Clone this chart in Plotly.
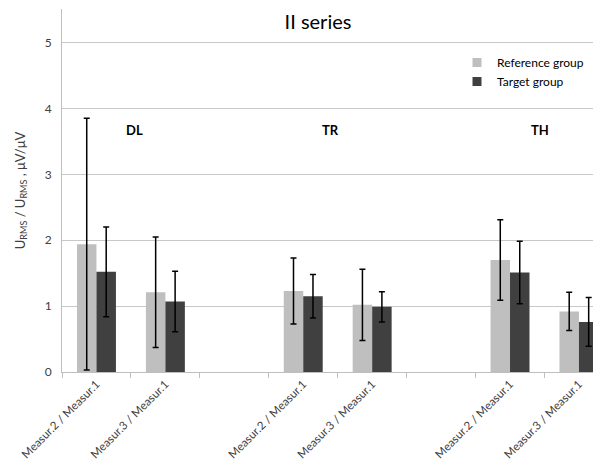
import plotly.graph_objects as go

categories = ["DL-2", "DL-3", "gap1", "TR-2", "TR-3", "gap2", "TH-2", "TH-3"]
tick_labels = ["Measur.2 / Measur.1", "Measur.3 / Measur.1", " ",
               "Measur.2 / Measur.1", "Measur.3 / Measur.1", " ",
               "Measur.2 / Measur.1", "Measur.3 / Measur.1"]
ref_values = [1.94, 1.21, None, 1.23, 1.02, None, 1.70, 0.92]
ref_errors = [1.91, 0.84, None, 0.50, 0.54, None, 0.61, 0.29]
tgt_values = [1.52, 1.07, None, 1.15, 0.99, None, 1.51, 0.76]
tgt_errors = [0.68, 0.46, None, 0.33, 0.23, None, 0.475, 0.37]
group_labels = ["DL", "TR", "TH"]
group_label_x = [0.55, 3.39, 6.44]
group_label_y = 3.68

FONT = "Lato, 'Open Sans', sans-serif"
REF_COLOR = "#BFBFBF"
TGT_COLOR = "#404040"

# The page body has an 8px default margin, so the figure is sized to fit.
W, H = 593, 454

fig = go.Figure()
fig.add_trace(go.Bar(
    x=categories, y=ref_values, name="Reference group", showlegend=False,
    marker=dict(color=REF_COLOR, line=dict(width=0)),
    error_y=dict(type="data", array=ref_errors, visible=True,
                 color="black", thickness=1.5, width=3),
))
fig.add_trace(go.Bar(
    x=categories, y=tgt_values, name="Target group", showlegend=False,
    marker=dict(color=TGT_COLOR, line=dict(width=0)),
    error_y=dict(type="data", array=tgt_errors, visible=True,
                 color="black", thickness=1.5, width=3),
))
# legend entries with small square swatches
for name, col in [("Reference group", REF_COLOR), ("Target group", TGT_COLOR)]:
    fig.add_trace(go.Scatter(
        x=[None], y=[None], mode="markers", name=name,
        marker=dict(symbol="square", size=9, color=col, line=dict(width=0)),
    ))

for lab, gx in zip(group_labels, group_label_x):
    fig.add_annotation(x=gx, y=group_label_y, text="<b>" + lab + "</b>",
                       showarrow=False, xref="x", yref="y",
                       font=dict(family=FONT, size=13, color="black"))

fig.update_layout(
    width=W, height=H,
    margin=dict(l=54, r=0, t=1, b=90, autoexpand=False),
    paper_bgcolor="white", plot_bgcolor="white",
    barmode="group", bargap=0.435, bargroupgap=0,
    font=dict(family=FONT, size=12, color="#404040"),
    title=dict(text="II series", x=310 / W, xanchor="center",
               y=1 - 13.5 / H, yanchor="middle",
               font=dict(family=FONT, size=20, color="black")),
    legend=dict(x=(449 - 54) / 539, y=0.8926, xref="paper",
                xanchor="left", yanchor="top",
                font=dict(family=FONT, size=12, color="black"),
                bgcolor="rgba(0,0,0,0)", itemwidth=30, tracegroupgap=2),
    showlegend=True,
)
fig.update_xaxes(
    type="category", categoryorder="array", categoryarray=categories,
    tickmode="array", tickvals=categories, ticktext=tick_labels,
    tickangle=-45, tickson="boundaries", ticks="outside", ticklen=5,
    tickcolor="#BFBFBF", showline=True, linecolor="#BFBFBF", linewidth=1,
    showgrid=False, range=[-0.5, 7.32], automargin=False,
    tickfont=dict(family=FONT, size=11.5, color="#404040"),
)
fig.update_yaxes(
    range=[0, 5.51], tickvals=[0, 1, 2, 3, 4, 5], showgrid=True,
    gridcolor="#C8C8C8", gridwidth=1, showline=True, linecolor="#BFBFBF",
    linewidth=1, ticks="", zeroline=False, automargin=False,
    ticklabelstandoff=7,
    tickfont=dict(family=FONT, size=12, color="#404040"),
    title=dict(text="U<sub>RMS</sub> / U<sub>RMS</sub> , μV/μV",
               font=dict(family=FONT, size=13, color="#404040"), standoff=16),
)

fig.write_html("out.html")
